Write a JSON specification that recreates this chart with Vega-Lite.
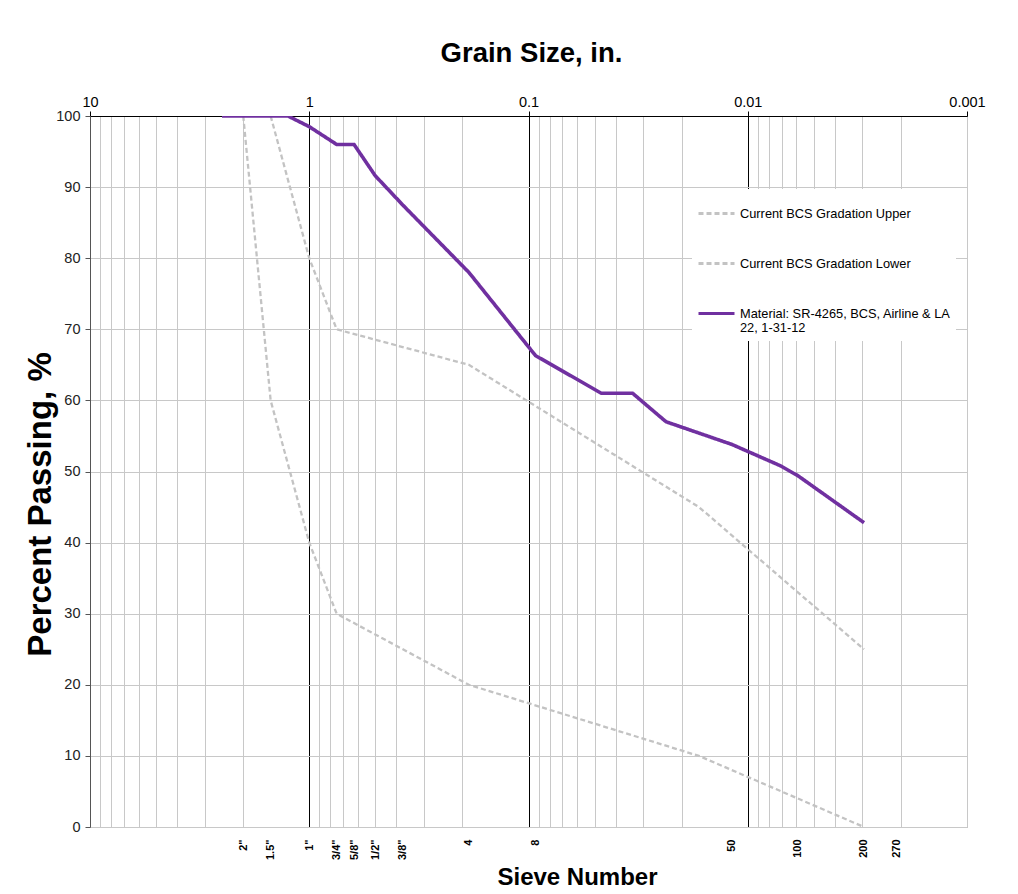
{
  "$schema": "https://vega.github.io/schema/vega-lite/v6.json",
  "width": 877,
  "height": 711,
  "autosize": {"type": "none"},
  "padding": {"left": 90, "top": 116, "right": 51, "bottom": 67},
  "background": "white",
  "config": {
    "font": "Liberation Sans",
    "view": {"stroke": "#a6a6a6", "strokeWidth": 1},
    "axis": {"labelFont": "Liberation Sans", "titleFont": "Liberation Sans"},
    "legend": {"labelFont": "Liberation Sans"}
  },
  "data": {
    "values": [
      {"series": "Current BCS Gradation Upper", "size": 1.5, "pct": 100},
      {"series": "Current BCS Gradation Upper", "size": 1, "pct": 80},
      {"series": "Current BCS Gradation Upper", "size": 0.75, "pct": 70},
      {"series": "Current BCS Gradation Upper", "size": 0.187, "pct": 65},
      {"series": "Current BCS Gradation Upper", "size": 0.0167, "pct": 45},
      {"series": "Current BCS Gradation Upper", "size": 0.00295, "pct": 25},
      {"series": "Current BCS Gradation Lower", "size": 2, "pct": 100},
      {"series": "Current BCS Gradation Lower", "size": 1.5, "pct": 60},
      {"series": "Current BCS Gradation Lower", "size": 1, "pct": 40},
      {"series": "Current BCS Gradation Lower", "size": 0.75, "pct": 30},
      {"series": "Current BCS Gradation Lower", "size": 0.187, "pct": 20},
      {"series": "Current BCS Gradation Lower", "size": 0.0167, "pct": 10},
      {"series": "Current BCS Gradation Lower", "size": 0.00295, "pct": 0},
      {"series": "Material: SR-4265, BCS, Airline & LA 22, 1-31-12", "size": 2.5, "pct": 100},
      {"series": "Material: SR-4265, BCS, Airline & LA 22, 1-31-12", "size": 1.25, "pct": 100},
      {"series": "Material: SR-4265, BCS, Airline & LA 22, 1-31-12", "size": 1, "pct": 98.5},
      {"series": "Material: SR-4265, BCS, Airline & LA 22, 1-31-12", "size": 0.75, "pct": 96},
      {"series": "Material: SR-4265, BCS, Airline & LA 22, 1-31-12", "size": 0.625, "pct": 96},
      {"series": "Material: SR-4265, BCS, Airline & LA 22, 1-31-12", "size": 0.5, "pct": 91.6},
      {"series": "Material: SR-4265, BCS, Airline & LA 22, 1-31-12", "size": 0.375, "pct": 87.5},
      {"series": "Material: SR-4265, BCS, Airline & LA 22, 1-31-12", "size": 0.187, "pct": 78},
      {"series": "Material: SR-4265, BCS, Airline & LA 22, 1-31-12", "size": 0.0929, "pct": 66.3},
      {"series": "Material: SR-4265, BCS, Airline & LA 22, 1-31-12", "size": 0.0465, "pct": 61},
      {"series": "Material: SR-4265, BCS, Airline & LA 22, 1-31-12", "size": 0.0335, "pct": 61},
      {"series": "Material: SR-4265, BCS, Airline & LA 22, 1-31-12", "size": 0.0236, "pct": 57},
      {"series": "Material: SR-4265, BCS, Airline & LA 22, 1-31-12", "size": 0.0118, "pct": 53.8},
      {"series": "Material: SR-4265, BCS, Airline & LA 22, 1-31-12", "size": 0.00709, "pct": 50.8},
      {"series": "Material: SR-4265, BCS, Airline & LA 22, 1-31-12", "size": 0.0059, "pct": 49.4},
      {"series": "Material: SR-4265, BCS, Airline & LA 22, 1-31-12", "size": 0.00295, "pct": 42.8}
    ]
  },
  "encoding": {
    "y": {
      "field": "pct",
      "type": "quantitative",
      "scale": {"domain": [0, 100], "nice": false, "zero": false},
      "axis": {
        "title": "Percent Passing, %",
        "values": [0, 10, 20, 30, 40, 50, 60, 70, 80, 90, 100],
        "grid": true,
        "gridColor": "#c8c8c8",
        "gridWidth": 1,
        "domainColor": "#555555",
        "tickColor": "#555555",
        "tickSize": 5,
        "labelFontSize": 14.5,
        "labelColor": "#222222",
        "labelPadding": 5,
        "titleFontSize": 33,
        "titleFontWeight": "bold",
        "titleColor": "black",
        "titleAngle": -90,
        "titleX": -50,
        "titleY": 388,
        "titleAlign": "center",
        "titleBaseline": "middle"
      }
    },
    "color": {
      "field": "series",
      "type": "nominal",
      "scale": {
        "domain": ["Current BCS Gradation Upper", "Current BCS Gradation Lower", "Material: SR-4265, BCS, Airline & LA 22, 1-31-12"],
        "range": ["#c3c3c3", "#c3c3c3", "#7030a0"]
      },
      "legend": {
        "title": null,
        "orient": "none",
        "legendX": 602,
        "legendY": 73,
        "fillColor": "white",
        "padding": 5,
        "symbolType": "stroke",
        "symbolSize": 1296,
        "symbolStrokeWidth": 3,
        "labelFontSize": 12.8,
        "labelColor": "black",
        "labelLimit": 300,
        "labelOffset": 4,
        "rowPadding": 23,
        "labelExpr": "datum.label == 'Material: SR-4265, BCS, Airline & LA 22, 1-31-12' ? ['Material: SR-4265, BCS, Airline & LA', '22, 1-31-12'] : datum.label"
      }
    },
    "strokeDash": {
      "field": "series",
      "type": "nominal",
      "scale": {
        "domain": ["Current BCS Gradation Upper", "Current BCS Gradation Lower", "Material: SR-4265, BCS, Airline & LA 22, 1-31-12"],
        "range": [[5, 3], [5, 3], [1, 0]]
      },
      "legend": {
        "title": null,
        "orient": "none",
        "legendX": 602,
        "legendY": 73,
        "fillColor": "white",
        "padding": 5,
        "symbolType": "stroke",
        "symbolSize": 1296,
        "symbolStrokeWidth": 3,
        "labelFontSize": 12.8,
        "labelColor": "black",
        "labelLimit": 300,
        "labelOffset": 4,
        "rowPadding": 23,
        "labelExpr": "datum.label == 'Material: SR-4265, BCS, Airline & LA 22, 1-31-12' ? ['Material: SR-4265, BCS, Airline & LA', '22, 1-31-12'] : datum.label"
      }
    }
  },
  "layer": [
    {
      "transform": [{"filter": "indexof(datum.series, 'Material') < 0"}],
      "mark": {"type": "line", "clip": true, "strokeWidth": 2.3},
      "encoding": {
        "x": {
          "field": "size",
          "type": "quantitative",
          "scale": {"type": "log", "domain": [0.001, 10], "reverse": true, "nice": false},
          "axis": {
            "orient": "top",
            "values": [0.001, 0.002, 0.003, 0.004, 0.005, 0.006, 0.007, 0.008, 0.009, 0.01, 0.02, 0.03, 0.04, 0.05, 0.06, 0.07, 0.08, 0.09, 0.1, 0.2, 0.3, 0.4, 0.5, 0.6, 0.7, 0.8, 0.9, 1, 2, 3, 4, 5, 6, 7, 8, 9, 10],
            "labelExpr": "(datum.value == 10 || datum.value == 1 || datum.value == 0.1 || datum.value == 0.01 || datum.value == 0.001) ? format(datum.value, '~g') : ''",
            "labelFontSize": 14.5,
            "labelColor": "black",
            "labelPadding": 2,
            "labelOverlap": false,
            "labelFlush": false,
            "labelBound": false,
            "tickSize": 5,
            "tickColor": "black",
            "tickOpacity": {"condition": {"test": "datum.value == 10 || datum.value == 1 || datum.value == 0.1 || datum.value == 0.01 || datum.value == 0.001", "value": 1}, "value": 0},
            "grid": true,
            "gridColor": {"condition": {"test": "datum.value == 1 || datum.value == 0.1 || datum.value == 0.01", "value": "black"}, "value": "#c8c8c8"},
            "gridWidth": 1,
            "domainColor": "black",
            "title": "Grain Size, in.",
            "titleFontSize": 27.5,
            "titleFontWeight": "bold",
            "titleColor": "black",
            "titleX": 441,
            "titleY": -63,
            "titleAlign": "center",
            "titleBaseline": "middle"
          }
        }
      }
    },
    {
      "transform": [{"filter": "indexof(datum.series, 'Material') >= 0"}],
      "mark": {"type": "line", "clip": true, "strokeWidth": 3.6},
      "encoding": {
        "x": {
          "field": "size",
          "type": "quantitative",
          "scale": {"type": "log", "domain": [0.001, 10], "reverse": true, "nice": false},
          "axis": {
            "orient": "bottom",
            "values": [2, 1.5, 1, 0.75, 0.625, 0.5, 0.375, 0.187, 0.0929, 0.0118, 0.0059, 0.00295, 0.0021],
            "labelExpr": "datum.value == 2 ? '2\"' : datum.value == 1.5 ? '1.5\"' : datum.value == 1 ? '1\"' : datum.value == 0.75 ? '3/4\"' : datum.value == 0.625 ? '5/8\"' : datum.value == 0.5 ? '1/2\"' : datum.value == 0.375 ? '3/8\"' : datum.value == 0.187 ? '4' : datum.value == 0.0929 ? '8' : datum.value == 0.0118 ? '50' : datum.value == 0.0059 ? '100' : datum.value == 0.00295 ? '200' : datum.value == 0.0021 ? '270' : ''",
            "labelAngle": 270,
            "labelAlign": "right",
            "labelBaseline": "middle",
            "labelFontSize": 11,
            "labelFontWeight": "bold",
            "labelColor": "black",
            "labelPadding": 12,
            "labelOverlap": false,
            "labelFlush": false,
            "labelBound": false,
            "ticks": false,
            "tickSize": 0,
            "domain": false,
            "grid": false,
            "title": "Sieve Number",
            "titleFontSize": 24,
            "titleFontWeight": "bold",
            "titleColor": "black",
            "titleX": 487,
            "titleY": 50,
            "titleAlign": "center",
            "titleBaseline": "middle"
          }
        }
      }
    }
  ],
  "resolve": {"axis": {"x": "independent"}}
}
